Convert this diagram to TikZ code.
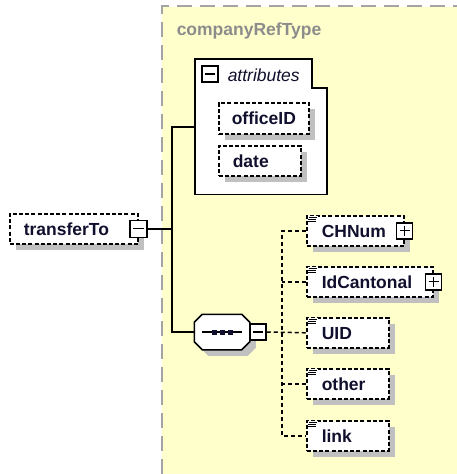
\documentclass[tikz,border=0pt]{standalone}
\usepackage{fontspec}
\setmainfont{Liberation Sans}
\usetikzlibrary{shadows}
\definecolor{bgyellow}{HTML}{FFFFCC}
\definecolor{framegray}{HTML}{A4A4A4}
\definecolor{shade}{HTML}{C0C0C0}
\definecolor{ink}{HTML}{10102E}
\definecolor{titlegray}{HTML}{8C8C8C}
\begin{document}
\begin{tikzpicture}[x=1pt,y=-1pt,line width=1.5pt,
  shadowed/.style={drop shadow={shadow xshift=6pt,shadow yshift=-6pt,fill=shade,opacity=1}},
  ebox/.style={draw,dash pattern=on 4pt off 2.2pt,line width=1.6pt,fill=white,inner sep=0pt,anchor=north west,minimum height=30pt,shadowed},
  etxt/.style={anchor=base west,inner sep=0pt,font=\fontsize{17.5}{20}\selectfont\bfseries,text=ink},
  pm/.style={draw,solid,fill=white,minimum size=16pt,inner sep=0pt,line width=1.5pt},
  minusbox/.style={pm,path picture={\draw[line width=1.3pt] ([xshift=3pt]path picture bounding box.west) -- ([xshift=-3pt]path picture bounding box.east);}},
  plusbox/.style={pm,path picture={\draw[line width=1.3pt] ([xshift=3pt]path picture bounding box.west) -- ([xshift=-3pt]path picture bounding box.east);
      \draw[line width=1.3pt] ([yshift=-3pt]path picture bounding box.north) -- ([yshift=3pt]path picture bounding box.south);}},
  conn/.style={draw,dash pattern=on 4pt off 3pt,line width=1.5pt},
  solidconn/.style={draw,solid,line width=1.5pt},
  icon/.style={line width=1pt,solid}
]
\useasboundingbox (0,0) rectangle (457,474);
% type background
\fill[bgyellow] (162,7) rectangle (457,474);
\draw[framegray,line width=2pt,dash pattern=on 15pt off 8pt] (162,474) -- (162,6) -- (457,6);
\node[anchor=base west,inner sep=0pt,font=\fontsize{17.5}{20}\selectfont\bfseries,text=titlegray] (title) at (176,35) {companyRefType};

% transferTo
\node[ebox,minimum width=128pt] (tt) at (9,213) {};
\node[etxt] (tttxt) at ([xshift=14pt,yshift=-6.5pt]tt.west) {transferTo};
\node[minusbox,minimum size=17pt] (tm) at (tt.east) {};

% attributes box
\node[inner sep=0pt,anchor=north west,minimum width=132pt,minimum height=134pt] (attrs) at (195,59) {};
\draw[fill=white,solid] (attrs.north west) -- ++(117,0) -- ++(0,29) -- ++(15,0) |- (attrs.south west) -- cycle;
\node[minusbox] (am) at (210,74) {};
\node[anchor=base west,inner sep=0pt,font=\fontsize{17.5}{20}\selectfont\itshape,text=ink] (atxt) at (227,81) {attributes};
\node[ebox,minimum width=90pt,minimum height=31pt] (office) at (218,102) {};
\node[etxt] (officetxt) at ([xshift=13pt,yshift=-6.5pt]office.west) {officeID};
\node[ebox,minimum width=82pt] (date) at (218,145) {};
\node[etxt] (datetxt) at ([xshift=14pt,yshift=-6.5pt]date.west) {date};

% sequence
\node[inner sep=0pt,minimum width=54pt,minimum height=34pt] (seq) at (222,332) {};
\draw[fill=white,solid,shadowed] ([xshift=8pt]seq.north west) -- ([xshift=-8pt]seq.north east) -- ([yshift=-8pt]seq.north east) -- ([yshift=8pt]seq.south east) -- ([xshift=-8pt]seq.south east) -- ([xshift=8pt]seq.south west) -- ([yshift=8pt]seq.south west) -- ([yshift=-8pt]seq.north west) -- cycle;
\draw[solid,line width=1.3pt] ([xshift=8pt]seq.west) -- ([xshift=-8pt]seq.east);
\fill[ink] (211.5,329.5) rectangle (216.5,334.5);
\fill[ink] (219.5,329.5) rectangle (224.5,334.5);
\fill[ink] (227.5,329.5) rectangle (232.5,334.5);
\node[minusbox] (sm) at (258,332) {};

% solid connectors
\coordinate (trunk) at (172,229);
\draw[solidconn] (tm.east) -- (tm.east -| trunk);
\draw[solidconn] (attrs.west) -- (attrs.west -| trunk) -- (seq.west -| trunk) -- (seq.west);

% children
\node[ebox,minimum width=97pt] (c1) at (306,215) {};
\node[ebox,minimum width=126pt] (c2) at (306,266) {};
\node[ebox,minimum width=82pt] (c3) at (306,317) {};
\node[ebox,minimum width=82pt] (c4) at (306,368) {};
\node[ebox,minimum width=82pt] (c5) at (306,420) {};
\node[etxt] (c1txt) at ([xshift=15pt,yshift=-6.5pt]c1.west) {CHNum};
\node[etxt] (c2txt) at ([xshift=15pt,yshift=-6.5pt]c2.west) {IdCantonal};
\node[etxt] (c3txt) at ([xshift=15pt,yshift=-6.5pt]c3.west) {UID};
\node[etxt] (c4txt) at ([xshift=15pt,yshift=-6.5pt]c4.west) {other};
\node[etxt] (c5txt) at ([xshift=15pt,yshift=-6.5pt]c5.west) {link};
\node[plusbox] (c1p) at (c1.east) {};
\node[plusbox] (c2p) at (c2.east) {};
\foreach \c in {c1,c2,c3,c4,c5}{
  \fill[white] ([shift={(2pt,-1pt)}]\c.north west) rectangle ++(10,7);
  \draw[icon] ([shift={(3pt,-2.5pt)}]\c.north west) -- ++(8,0);
  \draw[icon] ([shift={(2pt,-4.5pt)}]\c.north west) -- ++(8,0);
  \draw[icon] ([shift={(2pt,-6.5pt)}]\c.north west) -- ++(8,0);
}

% dashed connectors
\coordinate (bus) at (282,332);
\draw[conn] (sm.east) -- (c3.west);
\draw[conn] (c1.west) -- (c1.west -| bus) -- (c5.west -| bus) -- (c5.west);
\draw[conn] (c2.west) -- (c2.west -| bus);
\draw[conn] (c4.west) -- (c4.west -| bus);
\end{tikzpicture}
\end{document}
